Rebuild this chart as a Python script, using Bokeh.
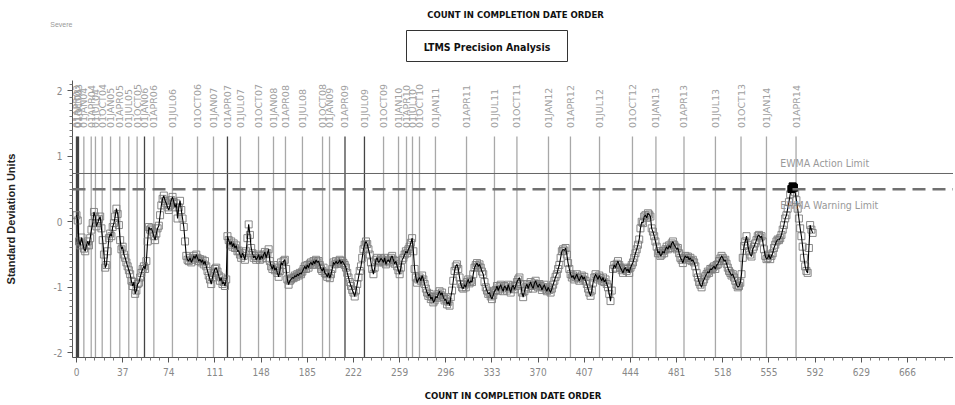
import math
from bokeh.plotting import figure
from bokeh.layouts import column
from bokeh.models import Label, Span, FixedTicker, Range1d
from bokeh.core.properties import value
from bokeh.embed import file_html
from bokeh.resources import INLINE

# ---------------- data ----------------
ewma = [
    0.10, 0.02, -0.30, -0.36, -0.24, -0.33, -0.41, -0.45, -0.36, -0.30,
    -0.36, -0.25, -0.12, -0.02, 0.15, 0.08, -0.07, -0.02, 0.04, 0.08,
    -0.10, -0.28, -0.50, -0.70, -0.66, -0.45, -0.25, -0.18, -0.22, -0.08,
    -0.02, 0.08, 0.20, 0.12, -0.05, -0.28, -0.42, -0.38, -0.50, -0.55,
    -0.62, -0.68, -0.74, -0.80, -0.90, -0.98, -0.92, -1.10, -1.05, -0.95,
    -0.93, -0.85, -0.78, -0.72, -0.68, -0.72, -0.60, -0.30, -0.08, -0.12,
    -0.10, -0.15, -0.22, -0.28, -0.18, -0.10, -0.06, 0.10, 0.25, 0.35,
    0.40, 0.32, 0.28, 0.22, 0.18, 0.25, 0.33, 0.38, 0.30, 0.22,
    0.28, 0.05, 0.22, 0.32, 0.18, 0.05, -0.08, -0.30, -0.52, -0.58,
    -0.60, -0.55, -0.62, -0.58, -0.52, -0.56, -0.50, -0.55, -0.60, -0.57,
    -0.62, -0.58, -0.65, -0.60, -0.68, -0.75, -0.82, -0.88, -0.95, -0.85,
    -0.78, -0.72, -0.70, -0.76, -0.82, -0.90, -0.85, -0.95, -0.92, -0.98,
    -0.88, -0.22, -0.28, -0.35, -0.30, -0.38, -0.33, -0.40, -0.36, -0.45,
    -0.44, -0.50, -0.55, -0.48, -0.52, -0.58, -0.45, -0.25, -0.04, -0.20,
    -0.40, -0.48, -0.55, -0.52, -0.58, -0.55, -0.50, -0.58, -0.52, -0.56,
    -0.50, -0.46, -0.55, -0.48, -0.42, -0.60, -0.68, -0.72, -0.66, -0.74,
    -0.70, -0.78, -0.84, -0.75, -0.62, -0.66, -0.60, -0.58, -0.72, -0.88,
    -0.96, -0.90, -0.88, -0.85, -0.86, -0.82, -0.84, -0.80, -0.82, -0.78,
    -0.80, -0.76, -0.72, -0.68, -0.72, -0.66, -0.70, -0.64, -0.62, -0.66,
    -0.60, -0.64, -0.58, -0.62, -0.60, -0.66, -0.72, -0.75, -0.70, -0.78,
    -0.80, -0.84, -0.78, -0.86, -0.80, -0.72, -0.62, -0.65, -0.60, -0.64,
    -0.62, -0.58, -0.64, -0.60, -0.63, -0.66, -0.70, -0.78, -0.85, -0.92,
    -0.98, -1.04, -1.08, -1.14, -1.05, -0.95, -0.85, -0.75, -0.68, -0.55,
    -0.42, -0.35, -0.30, -0.34, -0.42, -0.50, -0.62, -0.72, -0.80, -0.70,
    -0.58, -0.55, -0.62, -0.60, -0.56, -0.58, -0.62, -0.55, -0.65, -0.60,
    -0.58, -0.62, -0.55, -0.52, -0.58, -0.64, -0.60, -0.68, -0.74, -0.80,
    -0.70, -0.58, -0.55, -0.50, -0.45, -0.48, -0.42, -0.38, -0.32, -0.25,
    -0.45, -0.72, -0.85, -0.93, -0.88, -0.85, -0.90, -0.82, -0.88, -0.95,
    -1.02, -1.08, -1.13, -1.10, -1.18, -1.15, -1.23, -1.20, -1.14, -1.16,
    -1.10, -1.06, -1.12, -1.08, -1.15, -1.20, -1.18, -1.26, -1.22, -1.28,
    -1.15, -1.05, -0.90, -0.75, -0.68, -0.65, -0.72, -0.85, -0.95, -1.00,
    -1.02, -0.96, -1.00, -0.92, -0.88, -0.94, -0.90, -0.92, -0.80, -0.70,
    -0.66, -0.63, -0.68, -0.65, -0.70, -0.76, -0.80, -0.92, -1.00, -1.05,
    -1.10, -1.08, -1.14, -1.18, -1.12, -1.06, -1.04, -0.98, -1.05, -1.00,
    -0.96, -1.02, -1.06, -0.98, -1.00, -1.05, -0.96, -1.02, -1.08, -1.00,
    -0.97, -1.03, -0.98, -0.92, -0.88, -0.85, -0.95, -1.08, -1.15, -1.06,
    -1.00, -0.95, -1.02, -0.96, -0.92, -0.98, -1.02, -0.94, -0.90, -0.96,
    -1.00, -0.95, -0.98, -1.04, -1.00, -0.96, -1.02, -1.06, -1.00, -1.04,
    -1.08, -1.02, -0.96, -0.90, -0.84, -0.80, -0.72, -0.66, -0.55, -0.45,
    -0.42, -0.44, -0.40, -0.50, -0.63, -0.72, -0.80, -0.85, -0.82, -0.88,
    -0.84, -0.80, -0.86, -0.90, -0.85, -0.82, -0.88, -0.84, -0.90, -0.95,
    -1.02, -1.08, -1.13, -1.05, -0.93, -0.85, -0.80, -0.84, -0.88, -0.82,
    -0.86, -0.90, -0.85, -0.92, -0.88, -0.95, -1.00, -1.10, -1.21, -1.05,
    -0.72, -0.66, -0.70, -0.64, -0.60, -0.66, -0.70, -0.74, -0.78, -0.72,
    -0.70, -0.75, -0.72, -0.78, -0.70, -0.66, -0.62, -0.55, -0.48, -0.42,
    -0.35, -0.27, -0.10, 0.00, -0.02, 0.08, 0.10, 0.06, 0.13, 0.11,
    0.08, -0.10, -0.15, -0.22, -0.30, -0.38, -0.48, -0.45, -0.52, -0.50,
    -0.45, -0.48, -0.42, -0.38, -0.42, -0.36, -0.40, -0.33, -0.30, -0.35,
    -0.38, -0.42, -0.40, -0.48, -0.55, -0.58, -0.63, -0.56, -0.52, -0.55,
    -0.53, -0.58, -0.55, -0.60, -0.58, -0.62, -0.68, -0.78, -0.85, -0.92,
    -0.96, -1.00, -0.92, -0.88, -0.83, -0.80, -0.76, -0.78, -0.72, -0.73,
    -0.70, -0.68, -0.72, -0.66, -0.65, -0.60, -0.56, -0.52, -0.55, -0.60,
    -0.58, -0.64, -0.70, -0.75, -0.78, -0.82, -0.80, -0.85, -0.90, -0.96,
    -1.00, -0.98, -0.93, -0.80, -0.55, -0.37, -0.30, -0.22, -0.35, -0.45,
    -0.50, -0.53, -0.42, -0.38, -0.33, -0.28, -0.22, -0.20, -0.24, -0.22,
    -0.30, -0.42, -0.52, -0.57, -0.55, -0.50, -0.57, -0.52, -0.48, -0.40,
    -0.35, -0.30, -0.27, -0.28, -0.25, -0.20, -0.12, -0.05, 0.05, 0.10,
    0.20, 0.30, 0.42, 0.50, 0.54, 0.52, 0.45, 0.33, 0.20, 0.05,
    -0.10, -0.22, -0.38, -0.55, -0.68, -0.75, -0.78, -0.40, -0.05, -0.12,
    -0.17,
]
count = list(range(len(ewma)))

action_limit = 0.737
warning_limit = 0.495

date_counts = [0.0, 0.8, 1.6, 5.9, 11.8, 15.2, 20.6, 27.3, 34.7, 41.9, 48.6, 54.5, 62.0,
               76.9, 97.0, 109.8, 121.0, 131.4, 145.9, 157.9, 167.5, 181.1,
               197.2, 202.8, 215.2, 230.8, 246.1, 258.1, 264.5, 269.3, 274.9,
               287.7, 312.6, 335.0, 353.0, 378.3, 395.9, 419.2, 445.6, 464.4,
               486.9, 512.1, 532.6, 553.0, 576.7]
date_labels = ["01APR03", "01JUL03", "01OCT03", "01JAN04", "01APR04", "01JUL04", "01OCT04",
               "01JAN05", "01APR05", "01JUL05", "01OCT05", "01JAN06", "01APR06",
               "01JUL06", "01OCT06", "01JAN07", "01APR07", "01JUL07", "01OCT07", "01JAN08",
               "01APR08", "01JUL08", "01OCT08", "01JAN09", "01APR09", "01JUL09", "01OCT09",
               "01JAN10", "01APR10", "01JUL10", "01OCT10", "01JAN11", "01APR11", "01JUL11",
               "01OCT11", "01JAN12", "01APR12", "01JUL12", "01OCT12", "01JAN13", "01APR13",
               "01JUL13", "01OCT13", "01JAN14", "01APR14"]
dark_dates = ["01APR03", "01JUL03", "01OCT03", "01JAN06", "01APR07", "01APR09", "01JUL09"]

x_ticks = [0, 37, 74, 111, 148, 185, 222, 259, 296, 333, 370, 407, 444, 481,
           518, 555, 592, 629, 666, 703]
y_ticks = [-2, -1, 0, 1, 2]

TITLE = "COUNT IN COMPLETION DATE ORDER"
BOX_TITLE = "LTMS Precision Analysis"
CORNER = "Severe"

NARROW = "'Liberation Sans Narrow', 'DejaVu Sans Condensed', sans-serif"
W = 953
LEFT = 72

# ---------------- header strip (page pixel coordinates, y downwards) ----------------
head = figure(width=W, height=80, x_range=Range1d(LEFT, W), y_range=Range1d(80, 0),
              output_backend="svg", toolbar_location=None, title=None,
              x_axis_type=None, min_border=0, min_border_left=LEFT)
head.outline_line_color = None
head.grid.visible = False
# the small corner note sits left of the frame: shown as the only tick label of a bare axis
head.yaxis.ticker = FixedTicker(ticks=[24], minor_ticks=[])
head.yaxis.major_label_overrides = {24: CORNER}
head.yaxis.axis_line_color = None
head.yaxis.major_tick_line_color = None
head.yaxis.minor_tick_line_color = None
head.yaxis.major_tick_out = 0
head.yaxis.major_tick_in = 0
head.yaxis.minor_tick_out = 0
head.yaxis.major_label_standoff = 0
head.yaxis.major_label_text_font = "Liberation Sans"
head.yaxis.major_label_text_font_size = "7px"
head.yaxis.major_label_text_color = "#999"

head.text(x=[515], y=[14], text=[TITLE], text_align="center", text_baseline="middle",
          text_font=value(NARROW), text_font_style="bold", text_font_size="9.5px",
          text_color="#111")
head.quad(left=[406], right=[567], top=[30], bottom=[61], fill_color=None,
          line_color="#333", line_width=1)
head.text(x=[486.5], y=[46], text=[BOX_TITLE], text_align="center", text_baseline="middle",
          text_font=value(NARROW), text_font_style="bold", text_font_size="10.5px",
          text_color="#111")

# ---------------- main chart ----------------
X0, X1 = -3.2, 702.9
Y0, Y1 = -2.071, 2.156

p = figure(width=W, height=323, x_range=(X0, X1), y_range=(Y0, Y1),
           output_backend="svg", toolbar_location=None, title=None,
           min_border_left=LEFT, min_border_right=0, min_border_top=0, min_border_bottom=44)
p.outline_line_color = None
p.grid.visible = False

xstep = 37 / 5
p.xaxis.ticker = FixedTicker(ticks=x_ticks,
                             minor_ticks=[t + k * xstep for t in x_ticks[:-1] for k in range(1, 5)])
p.yaxis.ticker = FixedTicker(ticks=y_ticks,
                             minor_ticks=[t + k * 0.1 for t in y_ticks[:-1] for k in range(1, 10)] + [2.1])
p.yaxis.major_label_overrides = {t: str(t) for t in y_ticks}
for ax in (p.xaxis, p.yaxis):
    ax.axis_line_color = "#555"
    ax.major_tick_line_color = "#555"
    ax.minor_tick_line_color = "#777"
    ax.major_tick_in = 0
    ax.major_tick_out = 5
    ax.minor_tick_in = 0
    ax.minor_tick_out = 3
    ax.major_label_text_color = "#888"
    ax.major_label_text_font = NARROW
    ax.major_label_text_font_size = "10px"
    ax.major_label_standoff = 5

p.xaxis.axis_label = TITLE
p.xaxis.axis_label_text_font = NARROW
p.xaxis.axis_label_text_font_style = "bold"
p.xaxis.axis_label_text_font_size = "9.5px"
p.xaxis.axis_label_text_color = "#111"
p.xaxis.axis_label_standoff = 11

p.yaxis.axis_label = "Standard Deviation Units"
p.yaxis.axis_label_text_font = "Liberation Sans"
p.yaxis.axis_label_text_font_style = "bold"
p.yaxis.axis_label_text_font_size = "11px"
p.yaxis.axis_label_text_color = "#222"
p.yaxis.axis_label_standoff = 34

# date reference lines
gray_x = [c for c, l in zip(date_counts, date_labels) if l not in dark_dates]
dark_x = [c for c, l in zip(date_counts, date_labels) if l in dark_dates]
p.segment(x0=gray_x, y0=[1.30] * len(gray_x), x1=gray_x, y1=[Y0] * len(gray_x),
          line_color="#a8a8a8", line_width=1.3)
p.segment(x0=dark_x, y0=[1.30] * len(dark_x), x1=dark_x, y1=[Y0] * len(dark_x),
          line_color="#444444", line_width=1.3)
p.text(x=date_counts, y=[1.43] * len(date_counts), text=date_labels, angle=math.pi / 2,
       text_align="left", text_baseline="middle", text_font=value("DejaVu Sans"),
       text_font_size="9.5px", text_color="#a0a0a0")

# limits
p.add_layout(Span(location=action_limit, dimension="width", line_color="#666", line_width=1))
p.add_layout(Span(location=warning_limit, dimension="width", line_color="#707070",
                  line_width=2.5, line_dash="13 7"))
p.add_layout(Label(x=564, y=action_limit + 0.16, text="EWMA Action Limit",
                   text_font=NARROW, text_font_size="10.5px",
                   text_color="#999", text_baseline="middle"))
p.add_layout(Label(x=564, y=warning_limit - 0.24, text="EWMA Warning Limit",
                   text_font=NARROW, text_font_size="10.5px",
                   text_color="#999", text_baseline="middle"))

# series
p.scatter(count, ewma, marker="square", size=7, fill_color=None,
          line_color="#7a7a7a", line_width=0.9)
p.line(count, ewma, line_color="black", line_width=1.1)
hi_x = [c for c, v in zip(count, ewma) if v >= warning_limit]
hi_y = [v for v in ewma if v >= warning_limit]
p.scatter(hi_x, hi_y, marker="square", size=7, fill_color="black", line_color="black")

layout = column(head, p, spacing=0)
open("out.html", "w").write(file_html(layout, INLINE))
